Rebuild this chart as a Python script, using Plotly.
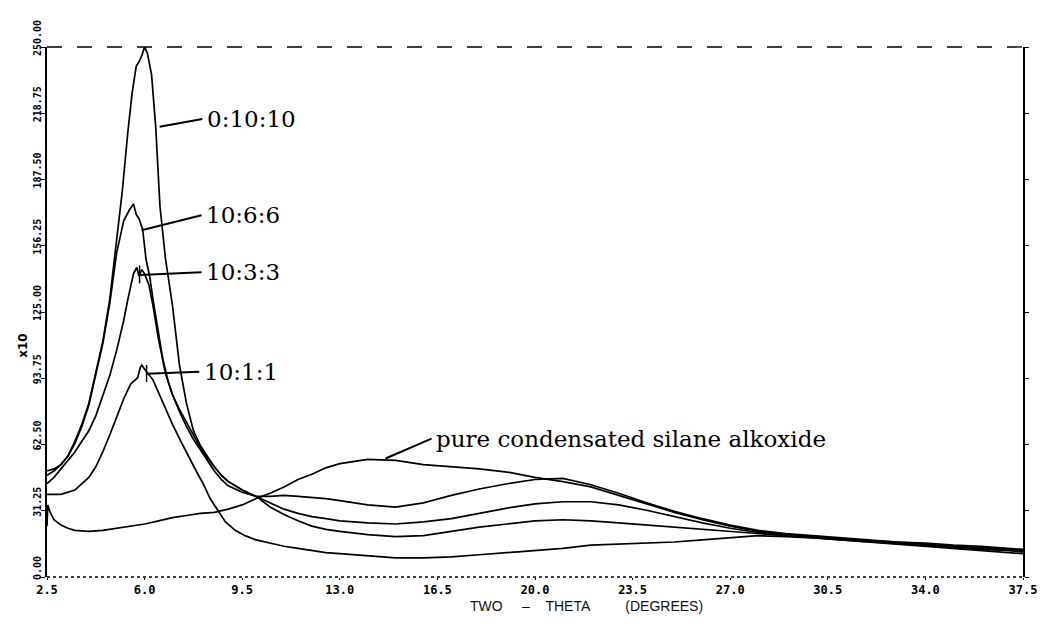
import plotly.graph_objects as go

# ---- data (2-theta in degrees, intensity in units of x10) ----
right_x = [10.5, 11.0, 11.5, 12.0, 12.5, 13.0, 14.0, 15.0, 16.0, 17.0, 18.0, 19.0, 20.0,
           21.0, 22.0, 23.0, 24.0, 25.0, 26.0, 27.0, 28.0, 29.0, 30.0, 31.0, 32.0, 33.0,
           34.0, 35.0, 36.0, 37.0, 37.5]

s0_10_10_x = [2.5, 2.75, 3.0, 3.25, 3.5, 3.75, 4.0, 4.25, 4.5, 4.75, 5.0, 5.2, 5.4, 5.55, 5.7,
              5.8, 5.9, 6.0, 6.1, 6.25, 6.4, 6.55, 6.75, 7.0, 7.25, 7.5, 7.75, 8.0, 8.25, 8.5,
              8.75, 9.0, 9.5, 10.0]
s0_10_10_y = [50, 51, 53, 57, 64, 72, 82, 97, 111, 131, 158, 182, 210, 228, 241,
              243, 246, 250, 247, 237, 212, 175, 150, 128, 100, 82, 69, 62, 57, 52,
              48, 45, 41, 38]
s0_10_10_ry = [33, 29.5, 26.5, 24, 22.5, 21.5, 20, 19, 19.5, 21.5, 23.5, 25, 26.5,
               27, 26.5, 25.5, 24.5, 23.5, 22.5, 21.5, 20.5, 19.5, 18.5, 17.5, 16.5, 15.5,
               14.5, 13.5, 12.5, 11.5, 11]

s10_6_6_x = [2.5, 2.75, 3.0, 3.25, 3.5, 3.75, 4.0, 4.25, 4.5, 4.75, 5.0, 5.25, 5.45, 5.6, 5.7,
             5.8, 5.93, 6.05, 6.18, 6.3, 6.5, 6.65, 6.85, 7.0, 7.25, 7.5, 7.75, 8.0, 8.25, 8.5,
             8.75, 9.0, 9.5, 10.0]
s10_6_6_y = [48, 50, 53, 57, 63, 71, 81, 96, 110, 129, 153, 168, 173, 176, 171,
             169, 164, 150, 142, 131, 115, 103, 92, 86, 79, 73, 67, 61, 56, 52,
             48, 45, 41, 38]
s10_6_6_ry = [35, 32, 30, 28.5, 27.5, 26.5, 25.5, 25, 26, 27.5, 30, 32.5, 34.5,
              35.5, 35.5, 34, 31.5, 28.5, 25.5, 23, 21, 20, 19, 18, 17, 16,
              15, 14, 13.5, 12.5, 12]

s10_3_3_x = [2.5, 2.75, 3.0, 3.25, 3.5, 3.75, 4.0, 4.25, 4.5, 4.75, 5.0, 5.25, 5.4, 5.6, 5.72,
             5.8, 5.9, 6.0, 6.15, 6.3, 6.5, 6.75, 7.0, 7.25, 7.5, 7.75, 8.0, 8.25, 8.5, 8.75,
             9.0, 9.5, 10.0]
s10_3_3_y = [44, 47, 51, 55, 59, 64, 69, 76, 85, 95, 107, 121, 131, 143, 146,
             142, 145, 143, 138, 128, 112, 96, 86, 78, 71, 65, 60, 55, 50, 46,
             43, 40, 38]
s10_3_3_ry = [38, 38.5, 38, 37.5, 37, 36, 34, 33, 35, 38.5, 41.5, 44, 46,
              46.5, 43.5, 39.5, 35, 31, 27.5, 24.5, 22, 20.5, 19.5, 18.5, 17.5, 16.5,
              16, 15, 14.5, 13.5, 13]

s10_1_1_x = [2.5, 2.75, 3.0, 3.5, 4.0, 4.25, 4.5, 4.75, 5.0, 5.25, 5.5, 5.75, 5.85, 5.9, 6.0,
             6.3, 6.6, 7.0, 7.3, 7.6, 7.85, 8.1, 8.35, 8.6, 8.9, 9.25, 9.6, 10.0]
s10_1_1_y = [39, 39, 39, 41, 47, 52, 59, 67, 76, 84, 91, 94, 99, 100, 98,
             93, 84, 72, 64, 56, 50, 44, 37, 32, 26, 22, 19.5, 17.5]
s10_1_1_ry = [16, 14.5, 13.5, 12.5, 11.5, 11, 10, 9, 9, 9.5, 10.5, 11.5, 12.5,
              13.5, 15, 15.5, 16, 16.5, 17.5, 18.5, 19.5, 19, 18.5, 17.5, 16.5, 16,
              15, 14, 13, 12.5, 12]

pure_x = [2.5, 2.53, 2.6, 2.75, 3.0, 3.25, 3.5, 4.0, 4.5, 5.0, 5.5, 6.0, 6.5, 7.0, 7.5,
          8.0, 8.5, 9.0, 9.5, 10.0]
pure_y = [24, 34, 31, 27, 24.5, 23, 22, 21.5, 22, 23, 24, 25, 26.5, 28, 29,
          30, 30.5, 32, 34, 37]
pure_ry = [39.5, 42.5, 46, 48.5, 51.5, 53.5, 55.5, 55, 53, 52, 51, 49.5, 47,
           45, 42.5, 38.5, 34.5, 30.5, 27, 24, 21.5, 20, 19, 18, 17, 16.5,
           15.5, 14.5, 14, 13, 12.5]

x_ticks = [2.5, 6.0, 9.5, 13.0, 16.5, 20.0, 23.5, 27.0, 30.5, 34.0, 37.5]
x_tick_text = ["2.5", "6.0", "9.5", "13.0", "16.5", "20.0", "23.5", "27.0", "30.5", "34.0", "37.5"]
y_ticks = [0, 31.25, 62.5, 93.75, 125, 156.25, 187.5, 218.75, 250]
y_tick_text = ["0.00", "31.25", "62.50", "93.75", "125.00", "156.25", "187.50", "218.75", "250.00"]

series = [
    ("0:10:10", s0_10_10_x + right_x, s0_10_10_y + s0_10_10_ry),
    ("10:6:6", s10_6_6_x + right_x, s10_6_6_y + s10_6_6_ry),
    ("10:3:3", s10_3_3_x + right_x, s10_3_3_y + s10_3_3_ry),
    ("10:1:1", s10_1_1_x + right_x, s10_1_1_y + s10_1_1_ry),
    ("pure condensated silane alkoxide", pure_x + right_x, pure_y + pure_ry),
]

fig = go.Figure()
for name, xs, ys in series:
    assert len(xs) == len(ys), name
    fig.add_trace(go.Scatter(x=xs, y=ys, mode="lines", name=name,
                             line=dict(color="black", width=1.7), showlegend=False))

# labels with leader lines: (text, line start, line end)
labels = [
    ("0:10:10", (6.54, 212.4), (8.07, 216.0)),
    ("10:6:6", (5.89, 163.6), (8.04, 170.6)),
    ("10:3:3", (5.82, 142.4), (8.04, 143.8)),
    ("10:1:1", (6.07, 95.9), (7.96, 96.8)),
    ("pure condensated silane alkoxide", (14.64, 55.9), (16.29, 65.3)),
]
for text, (x0, y0), (x1, y1) in labels:
    fig.add_shape(type="line", xref="x", yref="y", x0=x0, y0=y0, x1=x1, y1=y1,
                  line=dict(color="black", width=2))
    fig.add_annotation(x=x1 + 0.1, y=y1, xref="x", yref="y", text=text, showarrow=False,
                       xanchor="left", yanchor="middle",
                       font=dict(family="DejaVu Serif", size=23, color="black"))

# small end ticks on two leader lines
fig.add_shape(type="line", xref="x", yref="y", x0=5.82, y0=138.5, x1=5.82, y1=147,
              line=dict(color="black", width=1.5))
fig.add_shape(type="line", xref="x", yref="y", x0=6.07, y0=92, x1=6.07, y1=100,
              line=dict(color="black", width=1.5))

# frame: top dashed, bottom dotted
fig.add_shape(type="line", xref="paper", yref="paper", x0=0, y0=1, x1=1, y1=1,
              line=dict(color="black", width=1.3, dash="longdash"))
fig.add_shape(type="line", xref="paper", yref="paper", x0=0, y0=0, x1=1, y1=0,
              line=dict(color="black", width=1.3, dash="dot"))

fig.add_annotation(xref="paper", yref="y", x=-0.034, y=109, text="<b>x10</b>", showarrow=False,
                   textangle=-90, font=dict(family="DejaVu Sans", size=12, color="black"))
nb = "\u00a0"
fig.add_annotation(xref="paper", yref="paper", x=0.553, y=-0.055, yanchor="middle",
                   text="TWO" + nb * 5 + "\u2013" + nb * 4 + "THETA" + nb * 9 + "(DEGREES)",
                   showarrow=False, font=dict(family="Liberation Sans", size=14, color="#111"))

fig.update_xaxes(range=[2.5, 37.5], tickmode="array", tickvals=x_ticks, ticktext=x_tick_text,
                 showline=False, showgrid=False, zeroline=False, ticks="outside", ticklen=2,
                 tickcolor="black",
                 tickfont=dict(family="DejaVu Sans Mono", size=12, color="black", weight="bold"))
fig.update_yaxes(range=[0, 250], tickmode="array", tickvals=y_ticks, ticktext=y_tick_text,
                 showline=True, linecolor="black", linewidth=1.5, mirror="ticks",
                 showgrid=False, zeroline=False, ticks="outside", ticklen=4, tickcolor="black",
                 tickangle=-90, ticklabelposition="outside top",
                 tickfont=dict(family="DejaVu Sans Mono", size=10, color="black", weight="bold"))

# the page adds an 8px body margin, so the figure is sized to fit the 1049x624 window
fig.update_layout(width=1041, height=616, margin=dict(l=39, r=12, t=30, b=47),
                  plot_bgcolor="white", paper_bgcolor="white", showlegend=False)

fig.write_html("out.html")
